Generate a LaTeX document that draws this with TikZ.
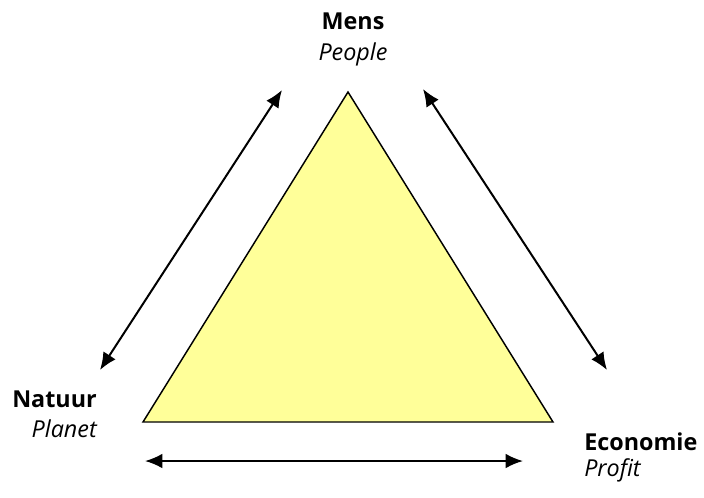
\documentclass[tikz,border=0pt]{standalone}
\usepackage{fontspec}
\setmainfont{Open Sans}
\usetikzlibrary{arrows.meta}
\definecolor{lichtgeel}{RGB}{255,255,153}
\tikzset{
  hoofd/.style={inner sep=0pt,font=\fontsize{17.5}{21}\selectfont\bfseries},
  sub/.style={inner sep=0pt,font=\fontsize{17.5}{21}\selectfont\itshape},
  pijl/.style={line width=1.5pt,{Latex[length=13pt,width=11pt]}-{Latex[length=13pt,width=11pt]}}
}
\begin{document}
\begin{tikzpicture}[x=0.75pt,y=-0.75pt]
\useasboundingbox (0,0) rectangle (704,497);

% driehoek
\coordinate (top) at (348,92);
\coordinate (links) at (143,422);
\coordinate (rechts) at (553,422);
\filldraw[fill=lichtgeel,line width=1.1pt,line join=miter] (top) -- (links) -- (rechts) -- cycle;

% labels
\node[hoofd,anchor=base] (mens) at (353,29) {Mens};
\node[sub,anchor=base] (people) at (353,60) {People};
\node[hoofd,anchor=base east] (natuur) at (97,407) {Natuur};
\node[sub,anchor=base east] (planet) at (97,437) {Planet};
\node[hoofd,anchor=base west] (economie) at (584,450) {Economie};
\node[sub,anchor=base west] (profit) at (584,476) {Profit};

% pijlen
\coordinate (l1) at (100,370);
\coordinate (l2) at (282,90);
\coordinate (r1) at (423,89);
\coordinate (r2) at (607,370);
\coordinate (o1) at (145,461);
\coordinate (o2) at (523,461);
\draw[pijl] (l1) -- (l2);
\draw[pijl] (r1) -- (r2);
\draw[pijl] (o1) -- (o2);
\end{tikzpicture}
\end{document}
